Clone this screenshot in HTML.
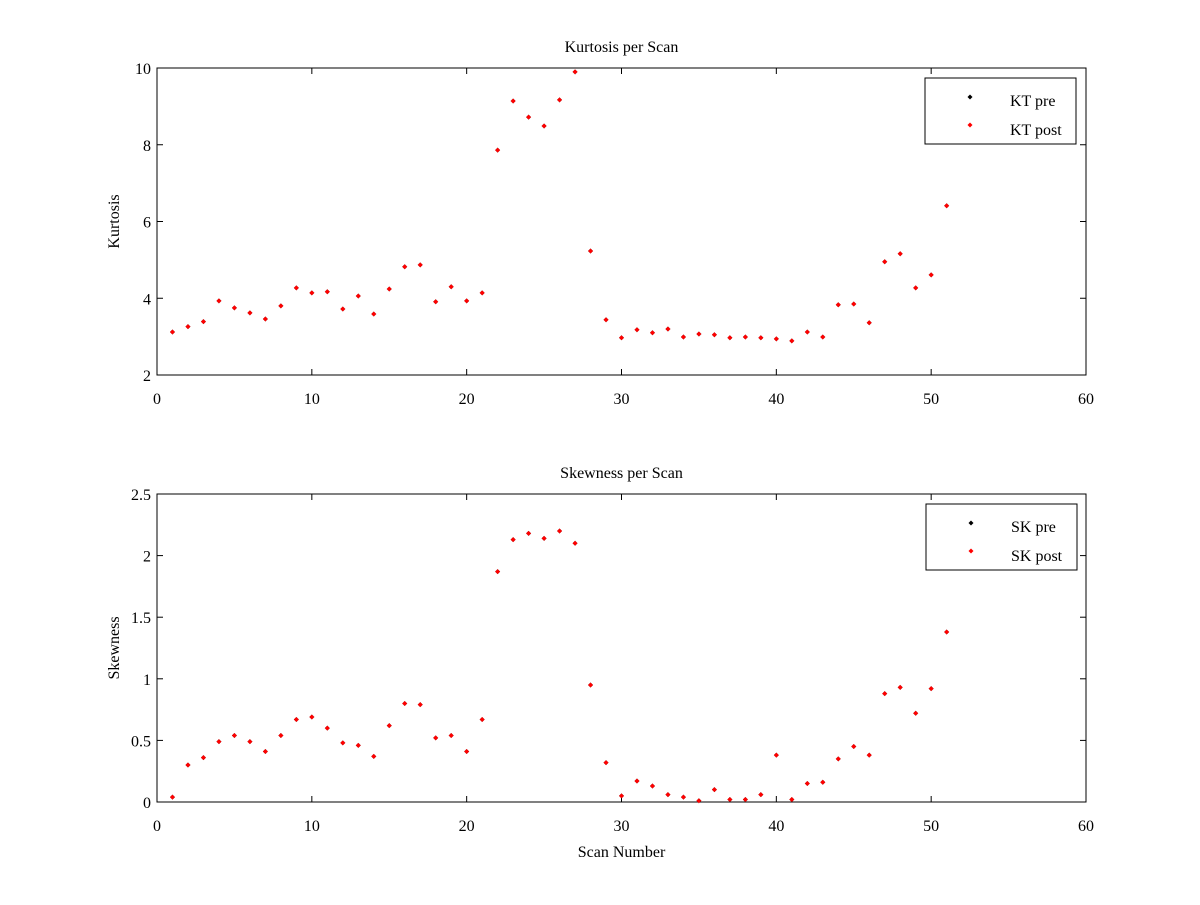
<!DOCTYPE html>
<html><head><meta charset="utf-8"><style>
body{margin:0;background:#fff}
svg text{font-family:"Liberation Serif",serif;font-size:16px;fill:#000}
</style></head><body>
<svg id="c" width="1200" height="900"></svg>
<script>
const scans=[];for(let i=1;i<=51;i++)scans.push(i);
const ktPost=[3.12,3.26,3.39,3.93,3.75,3.62,3.46,3.80,4.27,4.14,4.17,3.72,4.06,3.59,4.24,4.82,4.87,3.91,4.30,3.93,4.14,7.86,9.14,8.72,8.49,9.17,9.90,5.23,3.44,2.97,3.18,3.10,3.20,2.99,3.07,3.05,2.97,2.99,2.97,2.94,2.89,3.12,2.99,3.83,3.85,3.36,4.95,5.16,4.27,4.61,6.41];
const ktPre=ktPost.slice();
const skPost=[0.04,0.30,0.36,0.49,0.54,0.49,0.41,0.54,0.67,0.69,0.60,0.48,0.46,0.37,0.62,0.80,0.79,0.52,0.54,0.41,0.67,1.87,2.13,2.18,2.14,2.20,2.10,0.95,0.32,0.05,0.17,0.13,0.06,0.04,0.01,0.10,0.02,0.02,0.06,0.38,0.02,0.15,0.16,0.35,0.45,0.38,0.88,0.93,0.72,0.92,1.38];
const skPre=skPost.slice();
const xTicks=[0,10,20,30,40,50,60];
const ktTicks=[2,4,6,8,10];
const skTicks=[0,0.5,1,1.5,2,2.5];
const NS="http://www.w3.org/2000/svg";
const svg=document.getElementById('c');
function mk(t,a,p){const e=document.createElementNS(NS,t);for(const k in a)e.setAttribute(k,a[k]);(p||svg).appendChild(e);return e;}
function panel(o){
 const g=mk('g',{});
 
 
 const L=157,R=1086,T=o.top,B=o.bottom;
 const xs=v=>L+(v-0)/60*(R-L);
 const ys=v=>B-(v-o.min)/(o.max-o.min)*(B-T);
 mk('rect',{x:L,y:T,width:R-L,height:B-T,fill:'#fff',stroke:'#000','stroke-width':1},g);
 xTicks.forEach(t=>{const x=xs(t);
  mk('line',{x1:x,y1:B,x2:x,y2:B-6,stroke:'#000'},g);mk('line',{x1:x,y1:T,x2:x,y2:T+6,stroke:'#000'},g);
  const tx=mk('text',{x:x,y:B+29,'text-anchor':'middle'},g);tx.textContent=t;
  });
 o.ticks.forEach(t=>{const y=ys(t);
  mk('line',{x1:L,y1:y,x2:L+6,y2:y,stroke:'#000'},g);mk('line',{x1:R,y1:y,x2:R-6,y2:y,stroke:'#000'},g);
  const tx=mk('text',{x:L-6,y:y+6,'text-anchor':'end'},g);tx.textContent=t;
  });
 const ti=mk('text',{x:(L+R)/2,y:T-16,'text-anchor':'middle'},g);ti.textContent=o.title;
 
 const yl=mk('text',{x:0,y:0,'text-anchor':'middle',transform:`translate(${L-38},${(T+B)/2}) rotate(-90)`},g);yl.textContent=o.ylabel;
 
 const dia=(x,y,c)=>mk('path',{d:`M${x} ${y-2.5}L${x+2.5} ${y}L${x} ${y+2.5}L${x-2.5} ${y}Z`,fill:c},g);
 scans.forEach((s,i)=>{const p=dia(xs(s),ys(o.pre[i]),'#000');});
 scans.forEach((s,i)=>{const p=dia(xs(s),ys(o.post[i]),'#f00');});
 const lg=mk('g',{},g);
 const lx=o.legX,ly=T+10;
 mk('rect',{x:lx,y:ly,width:151,height:66,fill:'#fff',stroke:'#000'},lg);
 dia(lx+45,ly+19,'#000');dia(lx+45,ly+47,'#f00');
 const a=mk('text',{x:lx+85,y:ly+28},lg);a.textContent=o.leg[0];
 const b=mk('text',{x:lx+85,y:ly+57},lg);b.textContent=o.leg[1];
 if(o.xlabel){const xl=mk('text',{x:(L+R)/2,y:B+55,'text-anchor':'middle'},g);xl.textContent=o.xlabel;
  }
}
panel({name:'kurtosis-panel',top:68,bottom:375,min:2,max:10,ticks:ktTicks,title:'Kurtosis per Scan',ylabel:'Kurtosis',pre:ktPre,post:ktPost,leg:['KT pre','KT post'],legX:925});
panel({name:'skewness-panel',top:494,bottom:802,min:0,max:2.5,ticks:skTicks,title:'Skewness per Scan',ylabel:'Skewness',pre:skPre,post:skPost,leg:['SK pre','SK post'],legX:926,xlabel:'Scan Number'});
</script>
</body></html>
